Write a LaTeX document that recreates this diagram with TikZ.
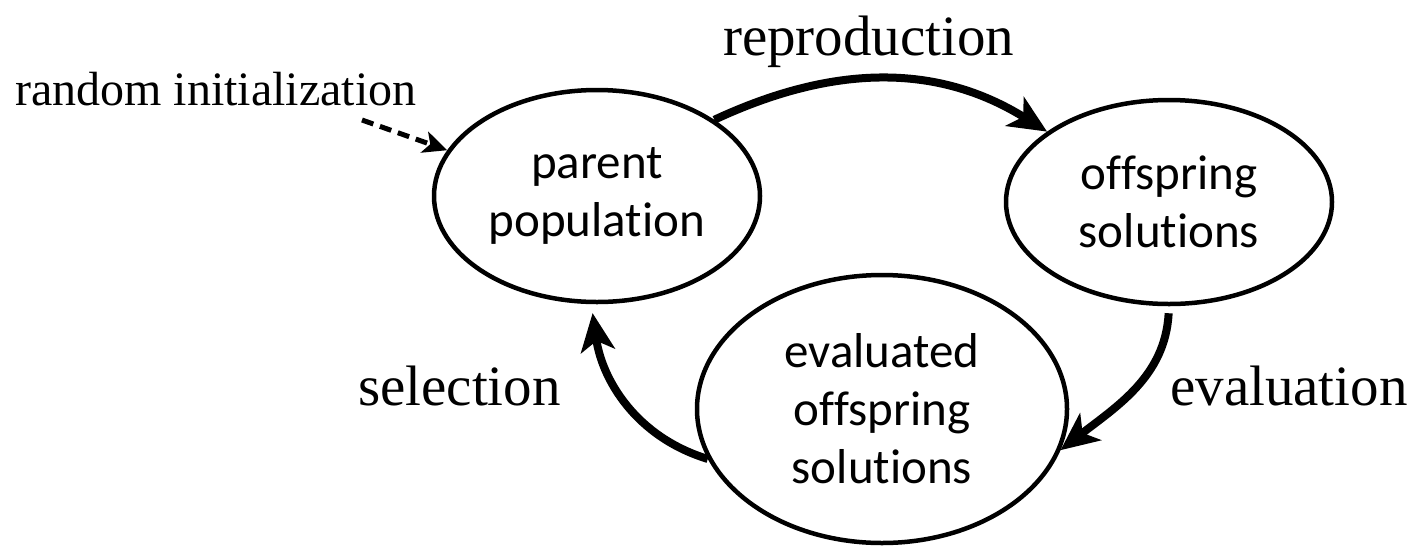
\documentclass[tikz,border=0pt]{standalone}
\usepackage{fontspec}
\setmainfont{Liberation Serif}
\newfontfamily\ellfont[Ligatures=NoCommon]{Carlito}
\usetikzlibrary{shapes.geometric,arrows.meta}

\tikzset{
  pop/.style={draw,ellipse,line width=4.5pt,inner sep=0pt,align=center,
    font=\ellfont\fontsize{49}{58}\selectfont},
  oplabel/.style={anchor=base west,inner sep=0pt,font=\fontsize{57}{68}\selectfont},
  cycle/.style={line width=8pt,-{Stealth[length=38pt,width=34pt,inset=10pt]}},
}

\begin{document}
\begin{tikzpicture}[x=1pt,y=-1pt]
\useasboundingbox (0,0) rectangle (1416,547);

\node[pop,minimum width=326pt,minimum height=212pt] (parent) at (597,196) {parent\\population};
\node[pop,minimum width=326pt,minimum height=204pt] (offspring) at (1169,202) {offspring\\solutions};
\node[pop,minimum width=370pt,minimum height=268pt] (evaluated) at (882,409) {evaluated\\offspring\\solutions};

% operators
\draw[cycle] (parent.33) to[out=25,in=148] (offspring.150);
\draw[cycle,shorten <=7pt] (offspring.-90) to[out=-93,in=38] (evaluated.-13);
\draw[cycle,shorten >=9pt] (evaluated.196) to[out=163,in=-82] (parent.-93);

% initialization
\coordinate (init) at (362,120);
\draw[line width=5pt,dash pattern=on 12pt off 7pt,-{Stealth[length=24pt,width=22pt,inset=6pt]}] (init) -- (parent.163);

\node[oplabel,font=\fontsize{48}{58}\selectfont] (lblinit) at (15,105) {random initialization};
\node[oplabel] (lblrepr) at (723,55) {reproduction};
\node[oplabel] (lblsel) at (358,405) {selection};
\node[oplabel] (lbleval) at (1170,405) {evaluation};
\end{tikzpicture}
\end{document}
